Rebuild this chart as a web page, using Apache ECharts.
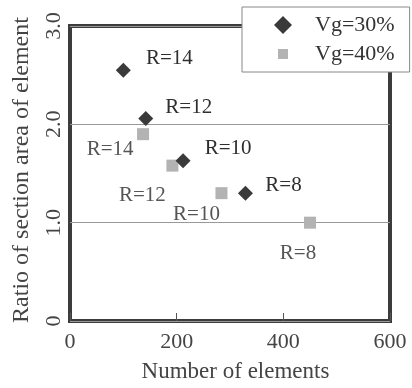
<!DOCTYPE html>
<html><head><meta charset="utf-8">
<script src="https://cdn.jsdelivr.net/npm/echarts@6/dist/echarts.min.js"></script>
<style>html,body{margin:0;padding:0;background:#fff}#c{width:412px;height:388px}</style>
</head><body><div id="c"></div>
<script>
const seriesNames = ['Vg=30%', 'Vg=40%'];
const xVg30 = [100, 142, 212, 329];
const yVg30 = [2.55, 2.06, 1.63, 1.30];
const xVg40 = [137, 192, 284, 450];
const yVg40 = [1.90, 1.58, 1.30, 1.00];
const rLabels = ['R=14', 'R=12', 'R=10', 'R=8'];
const xTicks = [0, 200, 400, 600];
const yTickLabels = ['0', '1.0', '2.0', '3.0'];
const xTitle = 'Number of elements';
const yTitle = 'Ratio of section area of element';

// label placement (style only)
const offs30 = [[46,-12],[43,-11],[45,-12],[38,-8]];
const offs40 = [[-33,15],[-30,30],[-25,21],[-12,31]];

const FONT = '"Liberation Serif","DejaVu Serif",serif';
function pts(xs, ys, offs, color) {
  return xs.map((x, i) => ({
    value: [x, ys[i]],
    label: { show: true, formatter: rLabels[i], position: 'inside', offset: offs[i],
      fontFamily: FONT, fontSize: 21, color: color }
  }));
}
const chart = echarts.init(document.getElementById('c'), null, {renderer: 'canvas'});
chart.setOption({
  animation: false,
  backgroundColor: '#fff',
  grid: { left: 70, right: 22, top: 26, bottom: 58, show: true, borderColor: '#3c3c3c', borderWidth: 4, backgroundColor: 'transparent' },
  xAxis: {
    type: 'value', min: 0, max: 600, interval: 200,
    name: xTitle, nameLocation: 'middle', nameGap: 39,
    nameTextStyle: { fontFamily: FONT, fontSize: 23, color: '#444', padding: [0, 0, 0, 11] },
    axisLine: { show: false },
    axisTick: { show: true, inside: true, length: 8, lineStyle: { color: '#555', width: 1 } },
    axisLabel: { fontFamily: FONT, fontSize: 22, color: '#444', margin: 10,
      formatter: v => String(xTicks[xTicks.indexOf(v)]) },
    splitLine: { show: false }
  },
  yAxis: {
    type: 'value', min: 0, max: 3, interval: 1,
    name: yTitle, nameLocation: 'middle', nameGap: 36, nameRotate: 90,
    nameTextStyle: { fontFamily: FONT, fontSize: 24, color: '#444', padding: [0, 0, 0, 7] },
    axisLine: { show: false },
    axisTick: { show: false },
    axisLabel: { fontFamily: FONT, fontSize: 22, color: '#444', margin: 5, rotate: 90,
      formatter: v => yTickLabels[Math.round(v)] },
    splitLine: { show: true, lineStyle: { color: '#999', width: 1 } }
  },
  legend: {
    left: 242, top: 7, orient: 'vertical',
    backgroundColor: '#fff', borderColor: '#888', borderWidth: 1,
    padding: [7, 15, 7, 32], itemGap: 7, itemWidth: 18, itemHeight: 18,
    textStyle: { fontFamily: FONT, fontSize: 22, color: '#333', lineHeight: 22, padding: [0, 0, 0, 18] },
    data: [
      { name: seriesNames[0], icon: 'diamond' },
      { name: seriesNames[1], icon: 'path://M0,0M4,4L14,4L14,14L4,14ZM18,18' }
    ]
  },
  series: [
    { name: seriesNames[0], type: 'scatter', symbol: 'diamond', symbolSize: 15,
      itemStyle: { color: '#3a3a3a', opacity: 1 }, z: 3,
      data: pts(xVg30, yVg30, offs30, '#2e2e2e') },
    { name: seriesNames[1], type: 'scatter', symbol: 'rect', symbolSize: 12,
      itemStyle: { color: '#b3b3b3', opacity: 1 }, z: 2,
      data: pts(xVg40, yVg40, offs40, '#555') }
  ]
});
</script></body></html>
